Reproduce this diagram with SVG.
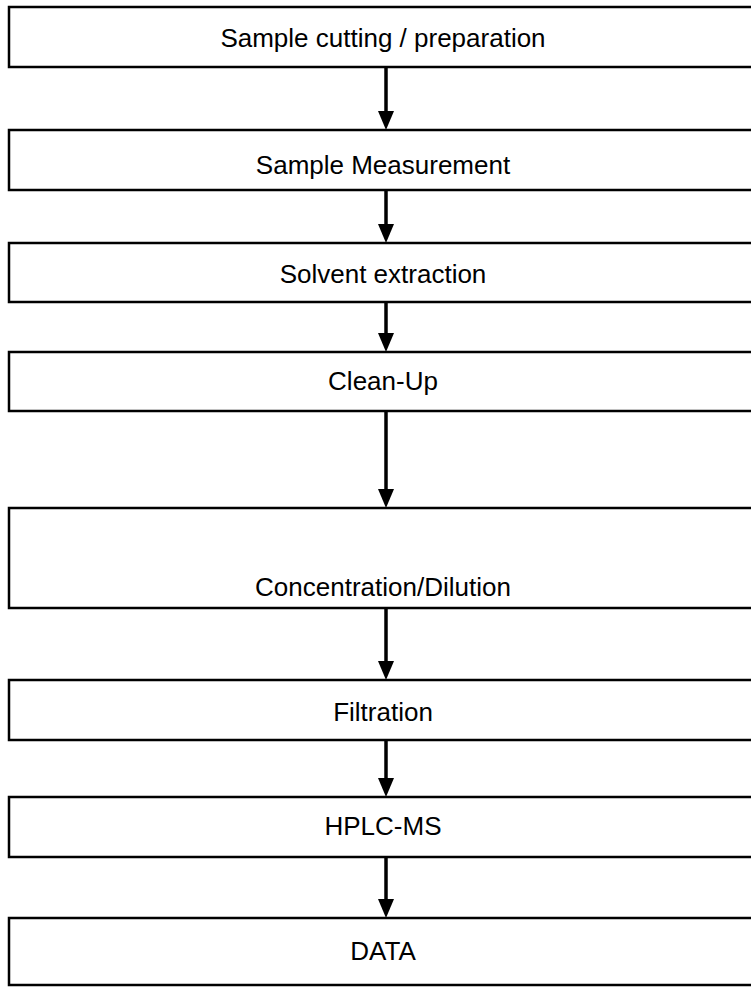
<svg xmlns="http://www.w3.org/2000/svg" width="751" height="1000" viewBox="0 0 751 1000">
<defs>
<style>
.box{fill:#fff;stroke:#000;stroke-width:2.5}
.lbl{font-family:"Liberation Sans",Arial,sans-serif;font-size:26px;fill:#000;text-anchor:middle}
.conn{stroke:#000;stroke-width:3.5;fill:none}
.head{fill:#000}
</style>
</defs>
<rect width="751" height="1000" fill="#fff"/>
<g id="n1"><rect class="box" x="9" y="7" width="750" height="60"/><text class="lbl" x="383" y="47">Sample cutting / preparation</text></g>
<g id="n2"><rect class="box" x="9" y="130" width="750" height="60"/><text class="lbl" x="383" y="174">Sample Measurement</text></g>
<g id="n3"><rect class="box" x="9" y="243" width="750" height="59"/><text class="lbl" x="383" y="283">Solvent extraction</text></g>
<g id="n4"><rect class="box" x="9" y="352" width="750" height="59"/><text class="lbl" x="383" y="390">Clean-Up</text></g>
<g id="n5"><rect class="box" x="9" y="508" width="750" height="100"/><text class="lbl" x="383" y="596">Concentration/Dilution</text></g>
<g id="n6"><rect class="box" x="9" y="680" width="750" height="60"/><text class="lbl" x="383" y="721">Filtration</text></g>
<g id="n7"><rect class="box" x="9" y="797" width="750" height="60"/><text class="lbl" x="383" y="835">HPLC-MS</text></g>
<g id="n8"><rect class="box" x="9" y="918" width="750" height="67"/><text class="lbl" x="383" y="960">DATA</text></g>
<g id="connectors">
<line class="conn" x1="386" y1="67" x2="386" y2="112"/><polygon class="head" points="378,111 394,111 386,130"/>
<line class="conn" x1="386" y1="190" x2="386" y2="225"/><polygon class="head" points="378,224 394,224 386,243"/>
<line class="conn" x1="386" y1="302" x2="386" y2="334"/><polygon class="head" points="378,333 394,333 386,352"/>
<line class="conn" x1="386" y1="411" x2="386" y2="490"/><polygon class="head" points="378,489 394,489 386,508"/>
<line class="conn" x1="386" y1="608" x2="386" y2="662"/><polygon class="head" points="378,661 394,661 386,680"/>
<line class="conn" x1="386" y1="740" x2="386" y2="779"/><polygon class="head" points="378,778 394,778 386,797"/>
<line class="conn" x1="386" y1="857" x2="386" y2="900"/><polygon class="head" points="378,899 394,899 386,918"/>
</g>
</svg>
